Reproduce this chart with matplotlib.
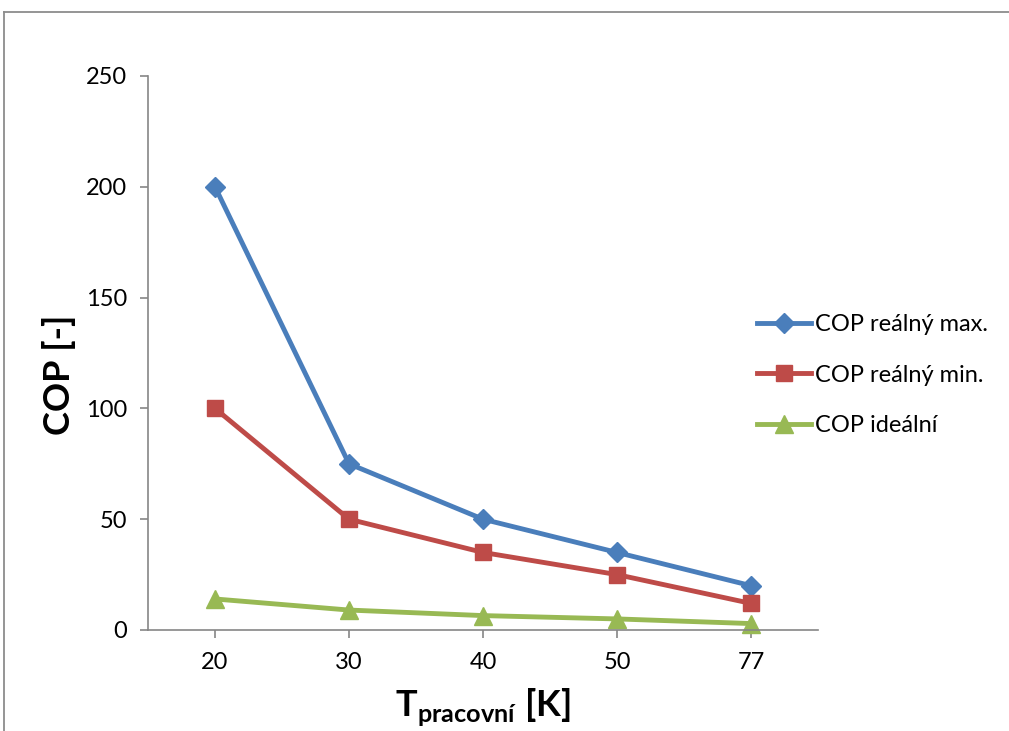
import matplotlib.pyplot as plt
from matplotlib.lines import Line2D

categories = ["20", "30", "40", "50", "77"]
cop_max = [200, 75, 50, 35, 20]
cop_min = [100, 50, 35, 25, 12]
cop_ideal = [14, 9, 6.5, 5, 2.9]

plt.rcParams['font.family'] = ['Lato', 'DejaVu Sans']
plt.rcParams['mathtext.fontset'] = 'custom'
plt.rcParams['mathtext.bf'] = 'Lato:bold'

fig = plt.figure(figsize=(10.09, 7.31), dpi=100)
W, H = 1009, 731

# outer chart frame: only top and left edges are visible
fig.add_artist(Line2D([4 / W, 1], [1 - 12 / H] * 2, transform=fig.transFigure,
                      color='#8c8c8c', linewidth=1.3))
fig.add_artist(Line2D([4 / W] * 2, [0, 1 - 12 / H], transform=fig.transFigure,
                      color='#8c8c8c', linewidth=1.3))

ax = fig.add_axes([148 / W, 1 - 630 / H, (818 - 148) / W, (630 - 76) / H])
x = range(len(categories))

ax.plot(x, cop_max, color='#4a7ebb', linewidth=3.5, marker='D', markersize=10, label='COP reálný max.')
ax.plot(x, cop_min, color='#be4b48', linewidth=3.5, marker='s', markersize=12, label='COP reálný min.')
ax.plot(x, cop_ideal, color='#98b954', linewidth=3.5, marker='^', markersize=13, label='COP ideální')

ax.set_xlim(-0.5, 4.5)
ax.set_ylim(0, 250)
ax.set_yticks([0, 50, 100, 150, 200, 250])
ax.set_xticks(list(x))
ax.set_xticklabels(categories)

for s in ['top', 'right']:
    ax.spines[s].set_visible(False)
for s in ['left', 'bottom']:
    ax.spines[s].set_color('#868686')
    ax.spines[s].set_linewidth(1.2)
ax.tick_params(axis='both', colors='#868686', length=6, width=1.2, labelsize=17,
               labelcolor='black', direction='out')
ax.tick_params(axis='x', pad=10)
ax.tick_params(axis='y', pad=9)
for line in ax.get_lines():
    line.set_clip_on(False)

ax.set_ylabel('COP [-]', fontsize=26, fontweight='bold')
ax.yaxis.set_label_coords(-0.108, 0.46)
ax.set_xlabel(r'T$_{\mathbf{pracovní}}$ [K]', fontsize=26, fontweight='bold')
ax.xaxis.set_label_coords(0.5, -0.102)

ax.legend(loc='upper left', bbox_to_anchor=(757 / W, 1 - 314 / H), bbox_transform=fig.transFigure,
          frameon=False, fontsize=17, handlelength=2.3, handletextpad=0.15,
          labelspacing=1.25, borderaxespad=0, borderpad=0)

fig.savefig('out.png', dpi=100)
